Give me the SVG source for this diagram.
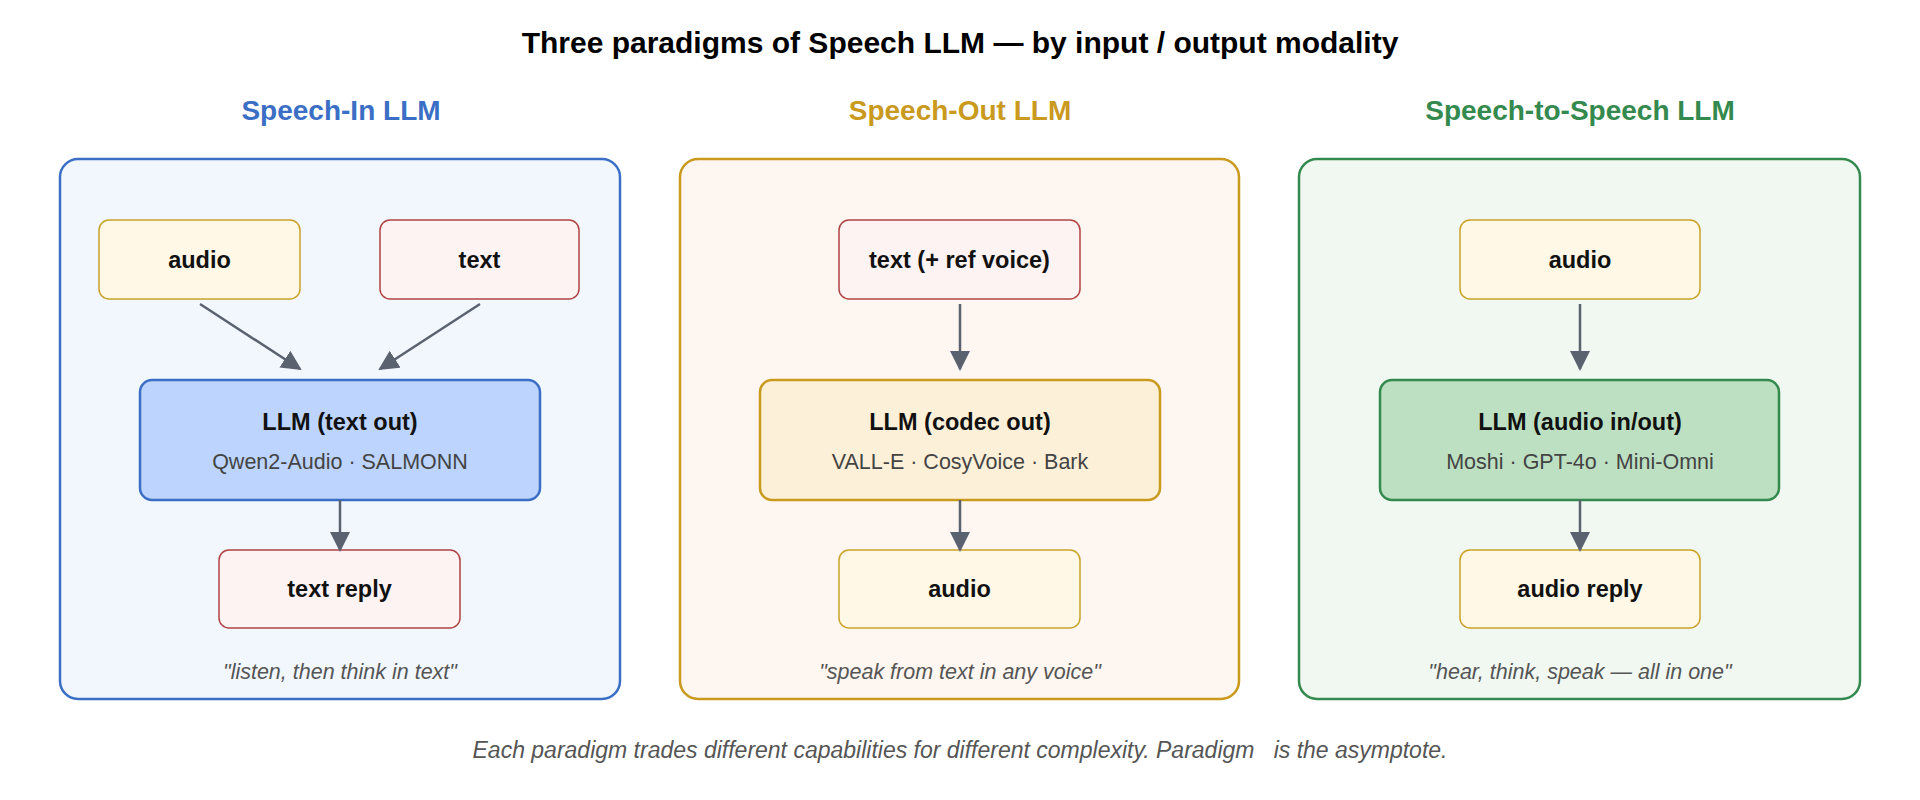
<svg xmlns="http://www.w3.org/2000/svg" width="1920" height="800" viewBox="0 0 1920 800">
<defs>
<marker id="a" viewBox="0 0 10 10" refX="9" refY="5" markerWidth="20" markerHeight="20" orient="auto" markerUnits="userSpaceOnUse"><path d="M0,0 L10,5 L0,10 z" fill="#5a6270"/></marker>
</defs>
<style>
text{font-family:"Liberation Sans",Arial,sans-serif;text-anchor:middle;dominant-baseline:central}
.h{font-size:28px;font-weight:bold}
.l{font-size:23.5px;font-weight:bold;fill:#111}
.s{font-size:21.5px;fill:#444}
.q{font-size:21.5px;font-style:italic;fill:#555}
.au{fill:#fff8e6;stroke:#c9a227;stroke-width:1.5}
.tx{fill:#fdf3f3;stroke:#b04444;stroke-width:1.5}
.c line{stroke:#5a6270;stroke-width:2.5;marker-end:url(#a)}
</style>
<rect width="1920" height="800" fill="#fff"/>
<text x="960" y="42" style="font-size:30px;font-weight:bold">Three paradigms of Speech LLM — by input / output modality</text>
<g id="p1">
<text class="h" x="341" y="110" fill="#3b6fc6">Speech-In LLM</text>
<rect x="60" y="159" width="560" height="540" rx="18" fill="#f2f7fd" stroke="#3b6fc6" stroke-width="2.5"/>
<text class="q" x="340" y="672">"listen, then think in text"</text>
</g>
<g id="p1-audio"><rect class="au" x="99" y="220" width="201" height="79" rx="10"/><text class="l" x="199.5" y="259.5">audio</text></g>
<g id="p1-text"><rect class="tx" x="380" y="220" width="199" height="79" rx="10"/><text class="l" x="479.5" y="259.5">text</text></g>
<g id="p1-llm"><rect x="140" y="380" width="400" height="120" rx="12" fill="#bcd4fe" stroke="#3b6fc6" stroke-width="2.5"/><text class="l" x="340" y="422">LLM (text out)</text><text class="s" x="340" y="462">Qwen2-Audio · SALMONN</text></g>
<g id="p1-reply"><rect class="tx" x="219" y="550" width="241" height="78" rx="10"/><text class="l" x="339.5" y="589">text reply</text></g>
<g id="p2">
<text class="h" x="960" y="110" fill="#c99a1e">Speech-Out LLM</text>
<rect x="680" y="159" width="559" height="540" rx="18" fill="#fef6f0" stroke="#c99a1e" stroke-width="2.5"/>
<text class="q" x="960" y="672">"speak from text in any voice"</text>
</g>
<g id="p2-text"><rect class="tx" x="839" y="220" width="241" height="79" rx="10"/><text class="l" x="959.5" y="259.5">text (+ ref voice)</text></g>
<g id="p2-llm"><rect x="760" y="380" width="400" height="120" rx="12" fill="#fdf0d8" stroke="#c99a1e" stroke-width="2.5"/><text class="l" x="960" y="422">LLM (codec out)</text><text class="s" x="960" y="462">VALL-E · CosyVoice · Bark</text></g>
<g id="p2-audio"><rect class="au" x="839" y="550" width="241" height="78" rx="10"/><text class="l" x="959.5" y="589">audio</text></g>
<g id="p3">
<text class="h" x="1580" y="110" fill="#348a4e">Speech-to-Speech LLM</text>
<rect x="1299" y="159" width="561" height="540" rx="18" fill="#f0f8f1" stroke="#348a4e" stroke-width="2.5"/>
<text class="q" x="1580" y="672">"hear, think, speak — all in one"</text>
</g>
<g id="p3-audio"><rect class="au" x="1460" y="220" width="240" height="79" rx="10"/><text class="l" x="1580" y="259.5">audio</text></g>
<g id="p3-llm"><rect x="1380" y="380" width="399" height="120" rx="12" fill="#bde0c3" stroke="#348a4e" stroke-width="2.5"/><text class="l" x="1580" y="422">LLM (audio in/out)</text><text class="s" x="1580" y="462">Moshi · GPT-4o · Mini-Omni</text></g>
<g id="p3-reply"><rect class="au" x="1460" y="550" width="240" height="78" rx="10"/><text class="l" x="1580" y="589">audio reply</text></g>
<g id="connectors" class="c">
<line x1="200" y1="304" x2="300" y2="369"/>
<line x1="480" y1="304" x2="380" y2="369"/>
<line x1="340" y1="500" x2="340" y2="550"/>
<line x1="960" y1="304" x2="960" y2="369"/>
<line x1="960" y1="500" x2="960" y2="550"/>
<line x1="1580" y1="304" x2="1580" y2="369"/>
<line x1="1580" y1="500" x2="1580" y2="550"/>
</g>
<text x="960" y="750" xml:space="preserve" style="font-size:23px;font-style:italic;fill:#555;white-space:pre">Each paradigm trades different capabilities for different complexity. Paradigm   is the asymptote.</text>
</svg>
